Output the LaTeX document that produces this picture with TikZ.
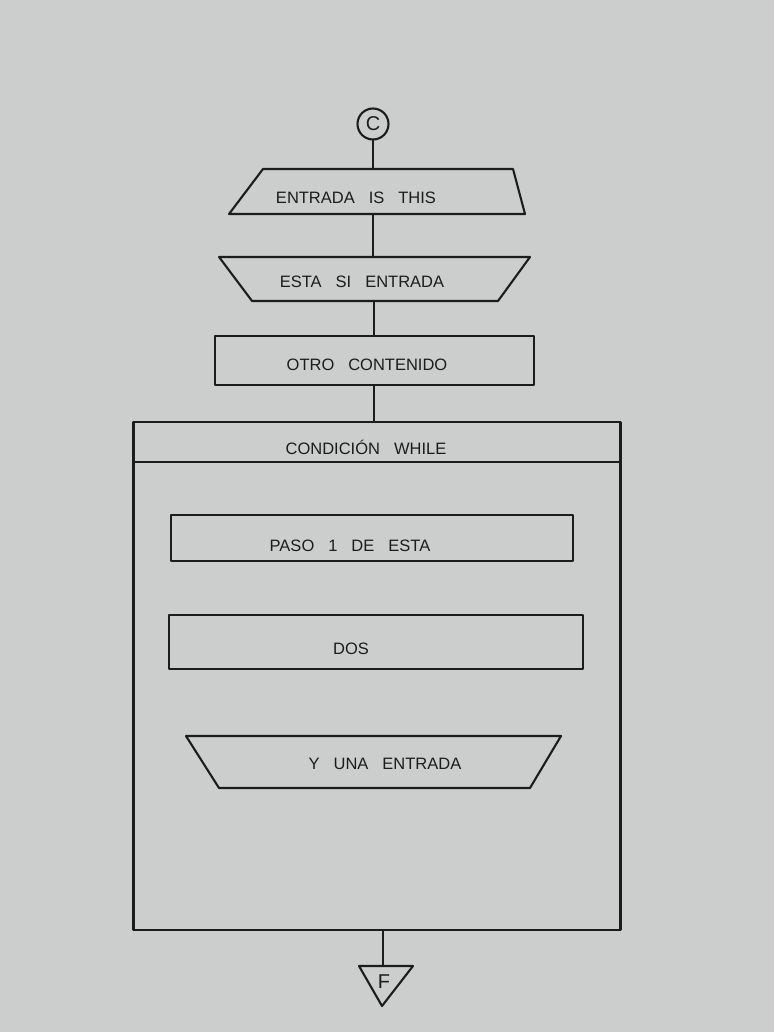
\documentclass[tikz,border=0pt]{standalone}
\usepackage{fontspec}
\setmainfont{Liberation Sans}
\usetikzlibrary{calc}
\definecolor{paper}{RGB}{204,206,205}
\definecolor{ink}{RGB}{28,28,28}
\newcommand\wgap{\hspace{14pt}}
\begin{document}
\begin{tikzpicture}[x=1pt,y=-1pt,
  every node/.style={inner sep=0pt, outer sep=0pt},
  ink line/.style={draw=ink, line width=2.1pt, line join=round, line cap=round},
  holder/.style={rectangle, draw=none},
  boxed/.style={rectangle, ink line},
  txt/.style={text=ink, font=\fontsize{16.5}{19}\selectfont},
  bigtxt/.style={text=ink, font=\fontsize{20}{22}\selectfont}]

% paper
\fill[paper] (0,0) rectangle (774,1032);
\useasboundingbox (0,0) rectangle (774,1032);

% start connector
\node[circle, ink line, minimum size=31pt, bigtxt] (c) at (373,124) {C};

% input (narrow top)
\node[holder, minimum width=296pt, minimum height=45pt] (t1) at (377,191.5) {};
\draw[ink line] (t1.south west) -- (t1.south east) -- ([xshift=-12pt]t1.north east)
  -- ([xshift=34pt]t1.north west) -- cycle;
\node[txt] (t1x) at (356,198) {ENTRADA\wgap IS\wgap THIS};

% output (wide top)
\node[holder, minimum width=311pt, minimum height=44pt] (t2) at (374.5,279) {};
\draw[ink line] (t2.north west) -- (t2.north east) -- ([xshift=-32pt]t2.south east)
  -- ([xshift=33pt]t2.south west) -- cycle;
\node[txt] (t2x) at (362,282) {ESTA\wgap SI\wgap ENTRADA};

% process
\node[boxed, minimum width=319pt, minimum height=49pt] (r3) at (374.5,360.5) {};
\node[txt] (r3x) at (367,365) {OTRO\wgap CONTENIDO};

% while loop
\node[boxed, minimum width=487pt, minimum height=508pt] (loop) at (377,676) {};
\draw[ink line] ($(loop.north west)+(0,40)$) -- ($(loop.north east)+(0,40)$);
\node[txt] (loopx) at (366,447) {CONDICIÓN\wgap WHILE};

% loop body
\node[boxed, minimum width=402pt, minimum height=46pt] (p1) at (372,538) {};
\node[txt] (p1x) at (350,546) {PASO\wgap 1\wgap DE\wgap ESTA};

\node[boxed, minimum width=414pt, minimum height=54pt] (p2) at (376,642) {};
\node[txt] (p2x) at (351,649) {DOS};

\node[holder, minimum width=375pt, minimum height=52pt] (p3) at (373.5,762) {};
\draw[ink line] (p3.north west) -- (p3.north east) -- ([xshift=-31pt]p3.south east)
  -- ([xshift=33pt]p3.south west) -- cycle;
\node[txt] (p3x) at (385,764) {Y\wgap UNA\wgap ENTRADA};

% end connector
\node[holder, minimum width=54pt, minimum height=40pt] (f) at (386,986) {};
\draw[ink line] (f.north west) -- (f.north east) -- ([xshift=-4pt]f.south) -- cycle;
\node[bigtxt] (fx) at (384,982) {F};

% flow lines
\draw[ink line] (c) -- (c |- t1.north);
\draw[ink line] (c |- t1.south) -- (c |- t2.north);
\draw[ink line] ([xshift=1pt]c |- t2.south) -- ([xshift=1pt]c |- r3.north);
\draw[ink line] ([xshift=1pt]c |- r3.south) -- ([xshift=1pt]c |- loop.north);
\draw[ink line] ([xshift=-3pt]f.north |- loop.south) -- ([xshift=-3pt]f.north);
\end{tikzpicture}
\end{document}
